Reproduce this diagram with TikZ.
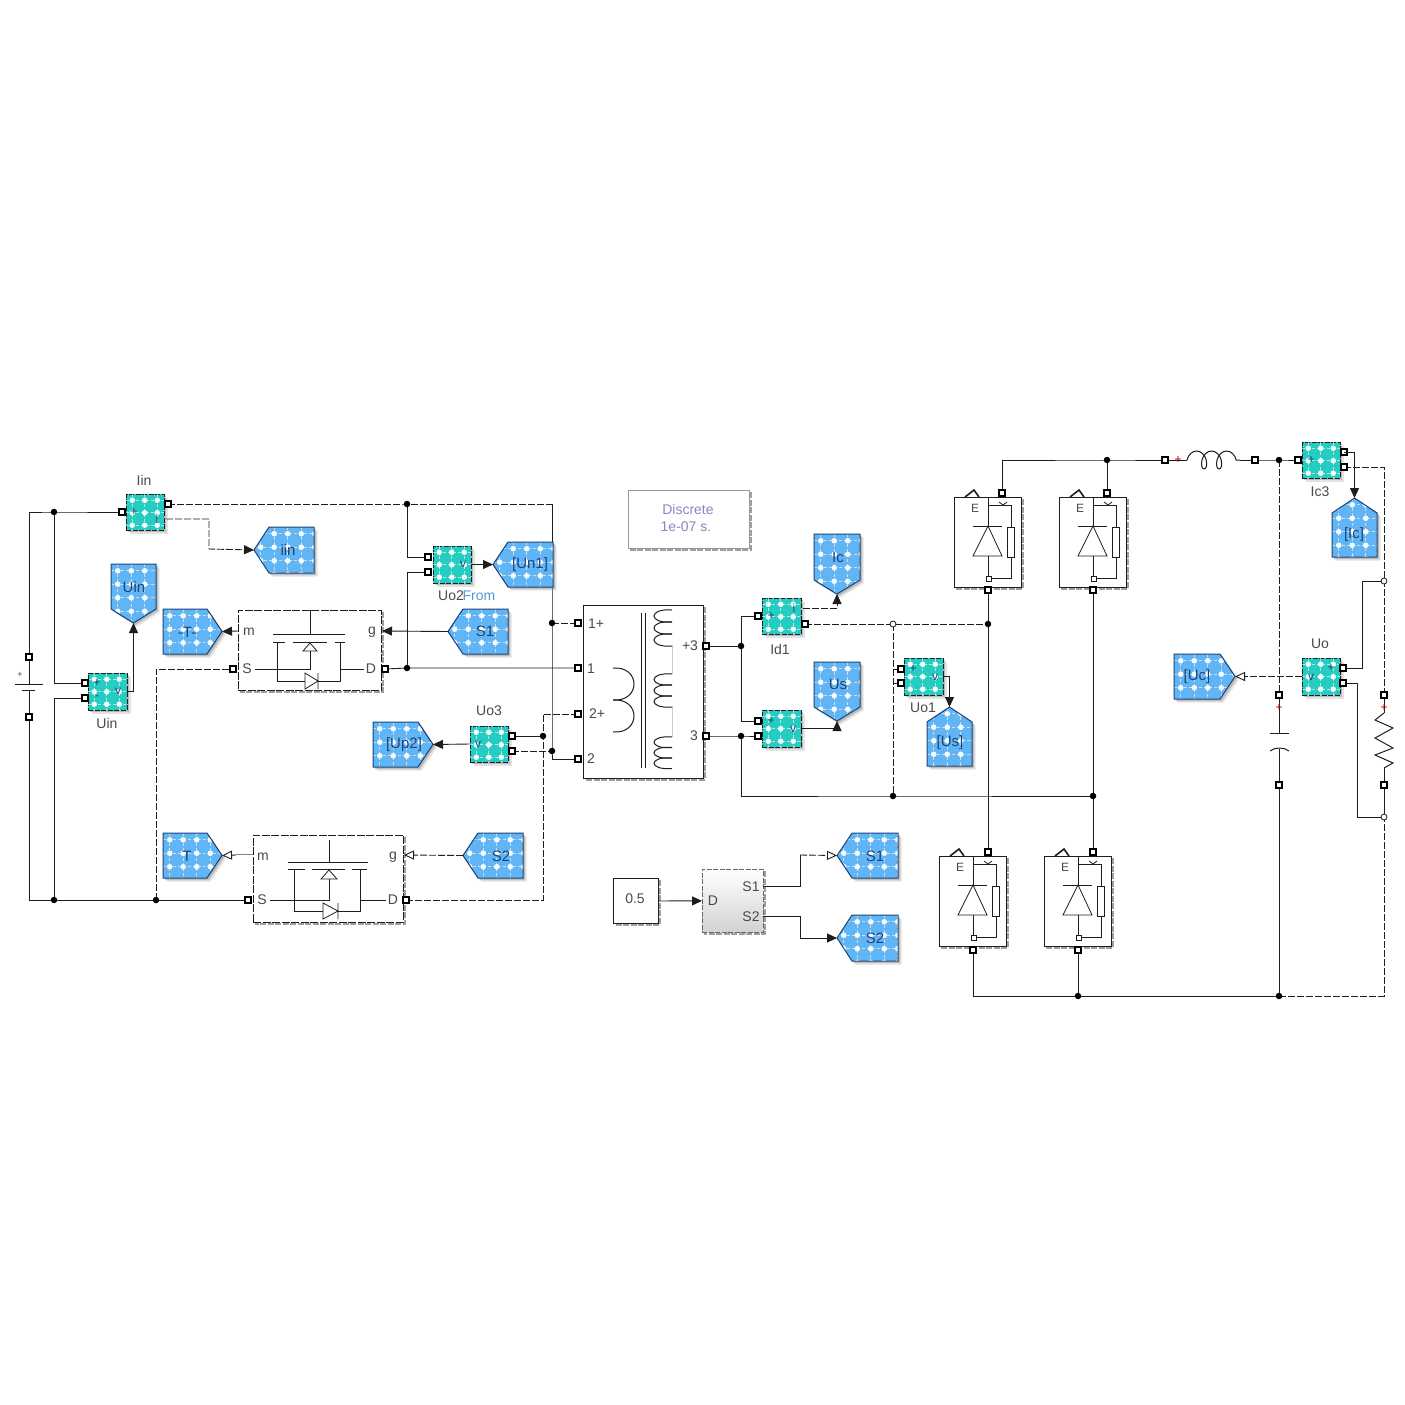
\documentclass[tikz,border=0pt]{standalone}
\usepackage{fontspec}
\setmainfont{Liberation Sans}
\usetikzlibrary{arrows.meta,decorations.pathmorphing}
\pgfdeclarelayer{wires}
\pgfsetlayers{wires,main}
\definecolor{tagblue}{HTML}{62B5F5}
\definecolor{meterteal}{HTML}{24CCC2}
\definecolor{tagtext}{HTML}{1C4478}
\definecolor{lbl}{HTML}{4A4A4A}
\definecolor{dark}{HTML}{1E1E1E}
\tikzset{
  x=1pt,y=-1pt,
  wire/.style={draw=dark,line width=0.9pt},
  dwire/.style={draw=dark,line width=0.9pt,dash pattern=on 7pt off 2pt},
  sig/.style={-{Triangle[length=10pt,width=9pt]}},
  hsig/.style={-{Triangle[open,length=10pt,width=9pt,fill=white]}},
  portn/.style={draw=black,fill=white,line width=1.9pt,minimum size=5.5pt,inner sep=0pt,rectangle},
  junc/.style={circle,fill=black,inner sep=0pt,minimum size=6.5pt},
  ojunc/.style={circle,draw=dark,fill=white,inner sep=0pt,minimum size=6pt,line width=0.8pt},
  boxb/.style={draw=dark,line width=0.9pt,fill=white,inner sep=0pt},
  sym/.style={draw=dark,line width=0.8pt},
  txt/.style={inner sep=0pt,text=lbl,font=\fontsize{14}{16}\selectfont},
  ttxt/.style={inner sep=0pt,text=tagtext,font=\fontsize{15}{17}\selectfont},
  mtxt/.style={inner sep=0pt,text=tagtext,font=\fontsize{12}{14}\selectfont},
  rplus/.style={inner sep=0pt,text=red!70!black,font=\fontsize{12}{14}\selectfont}
}
% soft shadow on the right and lower edges
\newcommand{\sh}[4]{\draw[gray!75,line width=2pt,dash pattern=on 6pt off 1.5pt] ({#3+1.5},{#2+2})--({#3+1.5},{#4+1.5})--({#1+2},{#4+1.5});}
% white dotted grid
\newcommand{\dotgrid}[5]{%
  \foreach \i in {0,...,5}{\draw[white,opacity=.6,line width=1.2pt,dash pattern=on 3pt off 2pt] ({#1+#5/2+\i*#5},#2)--({#1+#5/2+\i*#5},#4);
    \draw[white,opacity=.6,line width=1.2pt,dash pattern=on 3pt off 2pt] (#1,{#2+#5/2+\i*#5})--(#3,{#2+#5/2+\i*#5});
    \foreach \j in {0,...,5}{\fill[white,opacity=.95] ({#1+#5/2+\i*#5},{#2+#5/2+\j*#5}) circle (2.8pt);}}}
% Goto/From tag: name, direction, x1,y1,x2,y2
\newcommand{\tagblk}[6]{%
  \if l#2\def\mypath{(#3,{(#4+#6)/2})--({#3+15},#4)--(#5,#4)--(#5,#6)--({#3+15},#6)--cycle}\coordinate (#1) at (#3,{(#4+#6)/2});\fi
  \if r#2\def\mypath{(#5,{(#4+#6)/2})--({#5-15},#4)--(#3,#4)--(#3,#6)--({#5-15},#6)--cycle}\coordinate (#1) at (#5,{(#4+#6)/2});\fi
  \if d#2\def\mypath{({(#3+#5)/2},#6)--(#3,{#6-14})--(#3,#4)--(#5,#4)--(#5,{#6-14})--cycle}\coordinate (#1) at ({(#3+#5)/2},#6);\fi
  \if u#2\def\mypath{({(#3+#5)/2},#4)--(#3,{#4+15})--(#3,#6)--(#5,#6)--(#5,{#4+15})--cycle}\coordinate (#1) at ({(#3+#5)/2},#4);\fi
  \begin{scope}[shift={(3.5,3.5)}]\fill[gray,opacity=.22] \mypath;\end{scope}
  \begin{scope}[shift={(2,2)}]\fill[gray,opacity=.4] \mypath;\end{scope}
  \begin{scope}\clip \mypath; \fill[tagblue] (#3,#4) rectangle (#5,#6); \dotgrid{#3}{#4}{#5}{#6}{13.5}\end{scope}
  \draw[draw=tagtext,line width=1pt] \mypath;
}
% measurement block
\newcommand{\meter}[5]{%
  \fill[gray,opacity=.22] ({#2+3.5},{#3+3.5}) rectangle ({#4+3.5},{#5+3.5});
  \fill[gray,opacity=.4] ({#2+2},{#3+2}) rectangle ({#4+2},{#5+2});
  \node[draw=dark,line width=.8pt,dash pattern=on 5pt off 1.5pt,fill=meterteal,inner sep=0pt,minimum width={#4-#2},minimum height={#5-#3}] (#1) at ({(#2+#4)/2},{(#3+#5)/2}) {};
  \begin{scope}\clip (#2,#3) rectangle (#4,#5); \dotgrid{#2}{#3}{#4}{#5}{12.5}\end{scope}
}
% diode block with snubber
\newcommand{\diodeblk}[3]{%
  \sh{#2}{#3}{#2+67}{#3+90}
  \node[boxb,anchor=north west,minimum width=67pt,minimum height=90pt] (#1) at (#2,#3) {};
  \draw[sym] ({#2+34},#3)--({#2+34},{#3+29});
  \draw[sym] ({#2+19},{#3+29})--({#2+48},{#3+29});
  \draw[sym] ({#2+34},{#3+29})--({#2+19},{#3+59})--({#2+48},{#3+59})--cycle;
  \draw[sym] ({#2+34},{#3+59})--({#2+34},{#3+79});
  \draw[sym,fill=white] ({#2+32},{#3+79}) rectangle ({#2+37},{#3+84});
  \draw[sym] ({#2+34},{#3+8})--({#2+57},{#3+8})--({#2+57},{#3+30});
  \draw[sym] ({#2+53},{#3+30}) rectangle ({#2+60},{#3+60});
  \draw[sym] ({#2+57},{#3+60})--({#2+57},{#3+81})--({#2+37},{#3+81});
  \draw[sym] ({#2+45},{#3+5})--({#2+49},{#3+8})--({#2+53},{#3+5});
  \draw[line width=1.6pt,dark] ({#2+11},#3)--({#2+20},{#3-7})--({#2+25},#3);
  \node[txt,font=\fontsize{12}{14}\selectfont] (#1E) at ({#2+21},{#3+11}) {E};
}
\newcommand{\coilbump}[5]{\foreach \k in {1,...,#4}{\draw[line width=1pt,dark] (#1,{#2+(\k-1)*#3}) .. controls ({#1+#5},{#2+(\k-1)*#3-2}) and ({#1+#5},{#2+\k*#3+2}) .. (#1,{#2+\k*#3});}}
\begin{document}
\begin{tikzpicture}
\useasboundingbox (0,0) rectangle (1405,1405);
\begin{pgfonlayer}{wires}\fill[white] (0,0) rectangle (1405,1405);\end{pgfonlayer}

% ---------- tags ----------
\tagblk{tIin}{l}{254}{527}{314}{573}
\node[ttxt] (lIin) at (288,550) {iin};
\tagblk{tUin}{d}{111}{564}{156}{623}
\node[ttxt] (lUin) at (134,587) {Uin};
\tagblk{tTa}{r}{163}{609}{222}{654}
\node[ttxt] (lTa) at (187,632) {-T-};
\tagblk{tTb}{r}{163}{833}{222}{878}
\node[ttxt] (lTb) at (187,856) {T};
\tagblk{tS2a}{l}{463}{833}{523}{878}
\node[ttxt] (lS2a) at (501,856) {S2};
\tagblk{tS1a}{l}{448}{609}{508}{654}
\node[ttxt] (lS1a) at (485,631) {S1};
\tagblk{tUn}{l}{493}{542}{553}{587}
\node[ttxt] (lUn) at (530,565) {[Un1]};
\tagblk{tUp}{r}{373}{722}{433}{767}
\node[ttxt] (lUp) at (404,745) {[Up2]};
\tagblk{tIc}{d}{814}{534}{860}{594}
\node[ttxt] (lIc) at (838,557) {Ic};
\tagblk{tUs}{d}{814}{662}{860}{721}
\node[ttxt] (lUs) at (838,684) {Us};
\tagblk{tUsb}{u}{927}{707}{972}{766}
\node[ttxt] (lUsb) at (950,743) {[Us]};
\tagblk{tIcb}{u}{1332}{498}{1377}{557}
\node[ttxt] (lIcb) at (1354,535) {[Ic]};
\tagblk{tUc}{r}{1174}{654}{1235}{699}
\node[ttxt] (lUc) at (1197,677) {[Uc]};
\tagblk{tS1b}{l}{837}{833}{898}{878}
\node[ttxt] (lS1b) at (875,856) {S1};
\tagblk{tS2b}{l}{837}{915}{898}{961}
\node[ttxt] (lS2b) at (875,938) {S2};

% ---------- meters ----------
\meter{mIin}{126}{494}{164}{530}
\meter{mUin}{88}{673}{127}{710}
\meter{mUo2}{433}{546}{471}{583}
\meter{mUo3}{470}{726}{508}{762}
\meter{mId}{762}{598}{801}{634}
\meter{mUs}{762}{710}{801}{747}
\meter{mUo1}{904}{658}{943}{695}
\meter{mIc}{1302}{442}{1340}{478}
\meter{mUo}{1302}{658}{1340}{695}
\node[mtxt] (s1) at (134,512) {+};
\node[mtxt] (s2) at (157,519) {i};
\node[mtxt] (s3) at (97,683) {+};
\node[mtxt] (s4) at (97,698) {-};
\node[mtxt] (s5) at (118,691) {v};
\node[mtxt] (s6) at (463,564) {v};
\node[mtxt] (s7) at (478,744) {v};
\node[mtxt] (s8) at (771,616) {+};
\node[mtxt] (s9) at (794,608) {i};
\node[mtxt] (s10) at (771,721) {+};
\node[mtxt] (s11) at (793,729) {v};
\node[mtxt] (s12) at (913,669) {+};
\node[mtxt] (s13) at (935,677) {v};
\node[mtxt] (s14) at (1311,460) {+};
\node[mtxt] (s15) at (1331,668) {+};
\node[mtxt] (s16) at (1311,677) {v};

% ---------- block labels ----------
\node[txt] (nIin) at (144,480) {Iin};
\node[txt] (nUin) at (107,723) {Uin};
\node[txt] (nUo2) at (451,596) {Uo2};
\node[txt,text=cyan!60!blue!70] (nFrom) at (479,596) {From};
\node[txt] (nUo3) at (489,711) {Uo3};
\node[txt] (nId) at (780,649) {Id1};
\node[txt] (nUo1) at (923,708) {Uo1};
\node[txt] (nIc) at (1320,492) {Ic3};
\node[txt] (nUo) at (1320,644) {Uo};

% ---------- MOSFET 1 ----------
\sh{238}{610}{381}{690}
\node[boxb,dash pattern=on 8pt off 1.5pt,anchor=north west,minimum width=143pt,minimum height=80pt] (m1) at (238,610) {};
\draw[sym] (310,610)--(310,634) (273,634)--(345,634);
\draw[sym] (273,642)--(285,642) (293,642)--(327,642) (335,642)--(345,642);
\draw[sym] (310,643)--(303,651)--(317,651)--cycle;
\draw[sym] (255,669)--(310,669)--(310,651);
\draw[sym] (277,642)--(277,681)--(305,681) (318,681)--(340,681)--(340,642);
\draw[sym] (305,673)--(305,689)--(318,681)--cycle (318,673)--(318,689);
\draw[sym] (340,669)--(364,669);
\node[txt] (m1m) at (249,632) {m};
\node[txt] (m1s) at (247,669) {S};
\node[txt] (m1g) at (372,632) {g};
\node[txt] (m1d) at (371,669) {D};

% ---------- MOSFET 2 ----------
\sh{253}{835}{403}{922}
\node[boxb,dash pattern=on 8pt off 1.5pt,anchor=north west,minimum width=150pt,minimum height=87pt] (m2) at (253,835) {};
\draw[sym] (329,840)--(329,862) (288,862)--(368,862);
\draw[sym] (288,869)--(305,869) (312,869)--(345,869) (352,869)--(367,869);
\draw[sym] (329,870)--(321,879)--(337,879)--cycle;
\draw[sym] (270,900)--(329,900)--(329,879);
\draw[sym] (294,869)--(294,911)--(323,911) (338,911)--(360,911)--(360,869);
\draw[sym] (323,903)--(323,919)--(338,911)--cycle (338,903)--(338,919);
\draw[sym] (360,900)--(386,900);
\node[txt] (m2m) at (263,857) {m};
\node[txt] (m2s) at (262,900) {S};
\node[txt] (m2g) at (393,857) {g};
\node[txt] (m2d) at (393,900) {D};
\coordinate (m2mT) at (253,855);
\coordinate (m2mS) at (236,855);
\coordinate (m1mT) at (238,631);
\coordinate (m1gT) at (382,631);
\coordinate (m2gT) at (404,855);

% ---------- transformer ----------
\sh{583}{605}{703}{778}
\node[boxb,anchor=north west,minimum width=120pt,minimum height=173pt] (tr) at (583,605) {};
\draw[line width=1pt,dark] (641,613)--(641,768) (645,613)--(645,768);
\draw[gray!40,line width=.8pt] (672,645)--(672,674) (672,706)--(672,737);
\coilbump{613}{668}{32}{2}{28}
\coilbump{672}{610}{12}{3}{-24}
\coilbump{672}{674}{11}{3}{-24}
\coilbump{672}{737}{10.5}{3}{-24}
\node[txt] (tr1p) at (596,624) {1+};
\node[txt] (tr1) at (591,669) {1};
\node[txt] (tr2p) at (597,714) {2+};
\node[txt] (tr2) at (591,759) {2};
\node[txt] (tr3p) at (690,646) {+3};
\node[txt] (tr3) at (694,736) {3};

% ---------- discrete, constant, PWM ----------
\sh{628}{490}{749}{548}
\node[draw=gray!80,line width=.8pt,fill=white,inner sep=0pt,anchor=north west,minimum width=121pt,minimum height=58pt] (disc) at (628,490) {};
\node[txt,text=blue!35!gray!70] (disc1) at (688,509) {Discrete};
\node[txt,text=blue!35!gray!70] (disc2) at (686,527) {1e-07 s.};
\sh{613}{878}{658}{923}
\node[boxb,anchor=north west,minimum width=45pt,minimum height=45pt] (cst) at (613,878) {};
\node[txt] (cstt) at (635,899) {0.5};
\sh{702}{869}{763}{932}
\node[draw=gray!80!black,line width=.8pt,top color=white,bottom color=gray!35,inner sep=0pt,anchor=north west,minimum width=61pt,minimum height=63pt,dash pattern=on 5pt off 1.5pt] (pwm) at (702,869) {};
\node[txt] (pwmD) at (713,901) {D};
\node[txt] (pwmS1) at (751,887) {S1};
\node[txt] (pwmS2) at (751,917) {S2};
\coordinate (pwmA) at (763,886);
\coordinate (pwmB) at (763,916);

% ---------- diodes ----------
\diodeblk{d1}{954}{497}
\diodeblk{d2}{1059}{497}
\diodeblk{d3}{939}{856}
\diodeblk{d4}{1044}{856}

% ---------- source, inductor, capacitor, resistor ----------
\draw[line width=1pt,dark] (15,684)--(43,684) (22,690)--(35,690);
\node[txt,font=\fontsize{9}{10}\selectfont] (bp) at (20,675) {+};
\node[rplus] (lp) at (1178,460) {+};
\draw[line width=1pt,dark,decorate,decoration={coil,aspect=0.65,segment length=15pt,amplitude=9pt}] (1187,460)--(1240,460);
\node[rplus] (cp) at (1279,708) {+};
\draw[line width=1pt,dark] (1270,733)--(1289,733);
\draw[line width=1pt,dark] (1270,751) .. controls (1275,747) and (1284,747) .. (1289,751);
\node[rplus] (rp) at (1384,708) {+};
\draw[line width=1pt,dark] (1384,713)--(1375,720)--(1393,728)--(1375,738)--(1393,748)--(1375,755)--(1393,763)--(1384,768);

% ---------- ports ----------
\foreach \n/\x/\y in {pBt/29/657,pBb/29/717,pIinL/122/512,pIinR/168/504,pUinP/85/683,pUinN/85/698,
 pM1S/233/669,pM1D/385/669,pM2S/248/900,pM2D/406/900,pT1p/578/623,pT1/578/668,pT2p/578/714,pT2/578/759,
 pT3/706/646,pT4/706/736,pU2a/428/557,pU2b/428/572,pU3a/512/736,pU3b/512/751,pIdL/758/616,pIdR/805/624,
 pUsP/758/721,pUsN/758/736,pO1a/901/669,pO1b/901/683,pD1t/1002/493,pD1b/988/590,pD2t/1107/493,pD2b/1093/590,
 pD3t/988/852,pD3b/973/950,pD4t/1093/852,pD4b/1078/950,pLa/1165/460,pLb/1255/460,pIcL/1298/460,pIcA/1344/452,pIcB/1344/467,
 pUoA/1343/668,pUoB/1343/683,pCt/1279/695,pCb/1279/785,pRt/1384/695,pRb/1384/785}
 {\node[portn] (\n) at (\x,\y) {};}

% ---------- junctions ----------
\foreach \n/\x/\y in {jA/54/512,jB/54/900,jC/156/900,jD/407/504,jH/407/668,jF/552/623,jG/552/751,jK/543/736,
 jL/741/646,jM/741/736,jN/893/796,jO/1093/796,jQ/988/624,jR/1107/460,jS/1078/996,jT/1279/996,jV/1279/460}
 {\node[junc] (\n) at (\x,\y) {};}
\foreach \n/\x/\y in {jP/893/624,jW/1384/581,jX/1384/817}
 {\node[ojunc] (\n) at (\x,\y) {};}

% ---------- bends ----------
\foreach \n/\x/\y in {bA/552/504,bB/209/549,bC/543/714,bD/1362/581,bE/1357/817,bF/1384/996,bG/800/855,bH/800/938,bI/166/519,bJ/803/608}
 {\coordinate (\n) at (\x,\y);}

% ---------- wires ----------
\begin{pgfonlayer}{wires}
\draw[wire] (pBt.center) |- (jA.center) -- (pIinL.center);
\draw[wire] (jA.center) |- (pUinP.center);
\draw[wire] (pBt.center) -- (pBt.center |- 0,684);
\draw[wire] (pBb.center) -- (pBb.center |- 0,690);
\draw[wire] (pBb.center) |- (jB.center) -- (jC.center) -- (pM2S.center);
\draw[wire] (jB.center) |- (pUinN.center);
\draw[dwire] (jC.center) |- (pM1S.center);
\draw[dwire] (pIinR.center) -- (jD.center) -- (bA);
\draw[wire] (bA) -- (jF.center) -- (jG.center) |- (pT2.center);
\draw[dwire] (jF.center) -- (pT1p.center);
\draw[dwire,sig] (bI) -| (bB) -- (tIin);
\draw[wire] (jD.center) |- (pU2a.center);
\draw[wire] (jH.center) |- (pU2b.center);
\draw[wire] (pM1D.center) -- (jH.center) -- (pT1.center);
\draw[dwire] (pM2D.center) -| (bC) -- (pT2p.center);
\draw[wire] (pU3a.center) -- (jK.center);
\draw[dwire] (pU3b.center) -- (jG.center);
\draw[wire] (pT3.center) -- (jL.center);
\draw[wire] (jL.center) |- (pIdL.center);
\draw[wire] (jL.center) |- (pUsP.center);
\draw[wire] (pT4.center) -- (jM.center) -- (pUsN.center);
\draw[wire] (jM.center) |- (jN.center) -- (jO.center);
\draw[dwire] (pIdR.center) -- (jP.center) -- (jQ.center);
\draw[dwire] (jP.center) -- (jN.center);
\draw[wire] (pO1a.center) -- (jP |- pO1a);
\draw[wire] (pO1b.center) -- (jP |- pO1b);
\draw[wire] (pD1t.center) |- (jR.center) -- (pLa.center);
\draw[wire] (jR.center) -- (pD2t.center);
\draw[wire] (pD1b.center) -- (jQ.center) -- (pD3t.center);
\draw[wire] (pD2b.center) -- (jO.center) -- (pD4t.center);
\draw[wire] (pD3b.center) |- (jS.center) -- (jT.center);
\draw[dwire] (jT.center) -- (bF) -- (jX.center);
\draw[wire] (pD4b.center) -- (jS.center);
\draw[wire] (pLb.center) -- (jV.center) -- (pIcL.center);
\draw[dwire] (jV.center) -- (pCt.center);
\draw[wire] (pCb.center) -- (jT.center);
\draw[wire] (pCt.center) -- (pCt.center |- 0,733);
\draw[wire] (pCb.center) -- (pCb.center |- 0,749);
\draw[dwire] (pIcB.center) -| (jW.center) -- (pRt.center);
\draw[wire] (pRt.center) -- (pRt.center |- 0,713);
\draw[wire] (pRb.center) -- (pRb.center |- 0,768);
\draw[wire] (pRb.center) -- (jX.center);
\draw[wire] (pUoA.center) -| (bD) -- (jW.center);
\draw[wire] (pUoB.center) -| (bE) -- (jX.center);
\draw[wire] (pLa.center) -- ++(22,0);
\draw[wire] (pLb.center) -- ++(-15,0);
\end{pgfonlayer}
% signal lines end on top of the blocks
\draw[wire,sig] (mUin.east) -| (tUin);
\draw[wire,sig] (m1mT) -- (tTa);
\draw[wire,sig] (tS1a) -- (m1gT);
\draw[dwire,hsig] (tS2a) -- (m2gT);
\draw[draw=gray,line width=2.6pt] (m2mT) -- (m2mS);
\draw[draw=white,line width=.8pt] (m2mT) -- (m2mS);
\draw[wire,hsig] (m2mS) -- (tTb);
\draw[wire,sig] (mUo2.east) -- (tUn);
\draw[wire,sig] (mUo3.west) -- (tUp);
\draw[dwire,sig] (bJ) -| (tIc);
\draw[wire,sig] (mUs.east) -| (tUs);
\draw[wire,sig] (mUo1.east) -| (tUsb);
\draw[wire,sig] (pIcA.center) -| (tIcb);
\draw[dwire,hsig] (mUo.west) -- (tUc);
\draw[wire,sig] (cst.east) -- (pwm.west);
\draw[wire] (pwmA) -| (bG);
\draw[dwire,hsig] (bG) -- (tS1b);
\draw[wire] (pwmB) -| (bH);
\draw[wire,sig] (bH) -- (tS2b);
\end{tikzpicture}
\end{document}
